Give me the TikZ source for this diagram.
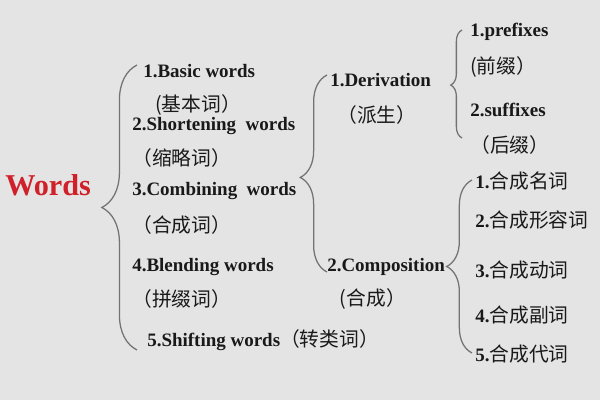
\documentclass[tikz,border=0pt]{standalone}
\usepackage{fontspec}
\setmainfont{Liberation Serif}
\newfontfamily\cjk[Scale=1.04]{Noto Sans CJK SC}
\usetikzlibrary{positioning, decorations.pathreplacing}
\definecolor{paper}{HTML}{E4E4E4}
\definecolor{wordred}{HTML}{D0202A}

\begin{document}
\begin{tikzpicture}[x=0.025cm,y=-0.025cm,font=\bfseries\fontsize{13.5}{16}\selectfont,inner sep=0pt]

	\tikzset{item/.style={anchor=west, text=black!90},
		zh/.style={item, font=\cjk\fontsize{13.5}{16}\selectfont},
		curly/.style={draw=black!55, line width=0.9pt, decorate,
			decoration={brace, amplitude=#1}}}

	\fill[paper] (0,0) rectangle (600,400);

	\node[item, text=wordred, font=\bfseries\fontsize{21.5}{24}\selectfont] (W) at (5,185) {Words};

	\node[item] (B) at (143,71) {1.Basic words};
	\node[zh, below right=24pt and 8.5pt of B.west, anchor=west] (Bz) {(基本词）};
	\node[item] (Sh) at (132,126) {2.Shortening\ \ words};
	\node[zh, below=23pt of Sh.west, anchor=west] (Shz) {（缩略词）};
	\node[item] (C) at (132,191) {3.Combining\ \ words};
	\node[zh, below=24pt of C.west, anchor=west] (Cz) {（合成词）};
	\node[item] (Bl) at (132,267) {4.Blending words};
	\node[zh, below=23pt of Bl.west, anchor=west] (Blz) {（拼缀词）};
	\node[item] (Sf) at (147,340) {5.Shifting words{\mdseries\cjk（转类词）}};

	\node[item] (Der) at (330,80) {1.Derivation};
	\node[zh, below right=25pt and 5pt of Der.west, anchor=west] (Derz) {（派生）};
	\node[item] (Com) at (327,267) {2.Composition};
	\node[zh, below right=23pt and 9pt of Com.west, anchor=west] (Comz) {(合成）};

	\node[item] (Pre) at (470,32) {1.prefixes};
	\node[zh, below=25pt of Pre.west, anchor=west] (Prez) {(前缀）};
	\node[item] (Suf) at (470,110) {2.suffixes};
	\node[zh, below=25pt of Suf.west, anchor=west] (Sufz) {（后缀）};

	\node[item] (N) at (475,181) {1.{\mdseries\cjk 合成名词}};
	\node[item] (A) at (475,220) {2.{\mdseries\cjk 合成形容词}};
	\node[item] (V) at (475,270) {3.{\mdseries\cjk 合成动词}};
	\node[item] (Ad) at (475,315) {4.{\mdseries\cjk 合成副词}};
	\node[item] (P) at (475,354) {5.{\mdseries\cjk 合成代词}};

	\coordinate (b1s) at (137,350); \coordinate (b1n) at (137,65);
	\coordinate (b2s) at (327,272); \coordinate (b2n) at (327,75);
	\coordinate (b3s) at (462,138); \coordinate (b3n) at (462,30);
	\coordinate (b4s) at (472,353); \coordinate (b4n) at (472,180);

	\draw[curly=25pt] (b1s) -- (b1n);
	\draw[curly=19pt, decoration={aspect=0.48}] (b2s) -- (b2n);
	\draw[curly=8pt, decoration={aspect=0.49}] (b3s) -- (b3n);
	\draw[curly=18pt] (b4s) -- (b4n);

\end{tikzpicture}
\end{document}
